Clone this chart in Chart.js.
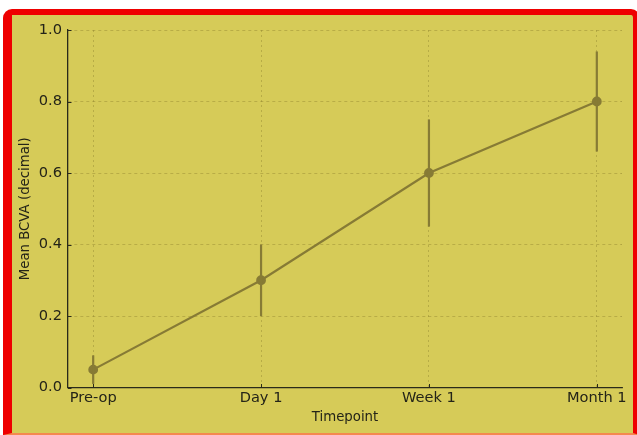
<!DOCTYPE html>
<html>
<head>
<meta charset="utf-8">
<script src="https://cdn.jsdelivr.net/npm/chart.js@4"></script>
<style>
  html, body { margin: 0; padding: 0; background: #ffffff; overflow: hidden; }
  #frame {
    position: absolute;
    left: 3px;
    top: 9px;
    width: 621px;
    height: 418px;
    border-style: solid;
    border-color: #ee0000 #ee0000 #f4884e #ee0000;
    border-width: 6px 7px 2px 9px;
    border-radius: 9px 9px 0 0;
    background: #d6cb58;
  }
  canvas { display: block; }
</style>
</head>
<body>
<div id="frame"><canvas id="chart" width="621" height="417"></canvas></div>
<script>
const timepoints = ["Pre-op", "Day 1", "Week 1", "Month 1"];
const meanBcva = [0.05, 0.30, 0.60, 0.80];
const errLow = [0.01, 0.20, 0.45, 0.66];
const errHigh = [0.09, 0.40, 0.75, 0.94];
const yTicks = [0.0, 0.2, 0.4, 0.6, 0.8, 1.0];

const lineColor = "#877b35";
const textColor = "#242418";
const axisColor = "#2a2a1a";
const gridColor = "rgba(130, 118, 40, 0.45)";

// vertical error bars + inward tick marks, placed with the chart's own scales
const errorBars = {
  id: "errorBars",
  afterDatasetsDraw(chart) {
    const { ctx, scales, chartArea } = chart;
    ctx.save();
    ctx.strokeStyle = lineColor;
    ctx.lineWidth = 2.2;
    for (let i = 0; i < timepoints.length; i++) {
      const x = scales.x.getPixelForValue(i);
      ctx.beginPath();
      ctx.moveTo(x, scales.y.getPixelForValue(errLow[i]));
      ctx.lineTo(x, scales.y.getPixelForValue(errHigh[i]));
      ctx.stroke();
    }
    ctx.restore();
  },
  afterDraw(chart) {
    const { ctx, scales, chartArea } = chart;
    ctx.save();
    ctx.strokeStyle = axisColor;
    ctx.lineWidth = 1;
    for (let i = 0; i < timepoints.length; i++) {
      const x = Math.round(scales.x.getPixelForValue(i)) + 0.5;
      ctx.beginPath();
      ctx.moveTo(x, chartArea.bottom);
      ctx.lineTo(x, chartArea.bottom - 3.5);
      ctx.stroke();
    }
    for (const v of yTicks) {
      const y = Math.round(scales.y.getPixelForValue(v)) + 0.5;
      ctx.beginPath();
      ctx.moveTo(chartArea.left, y);
      ctx.lineTo(chartArea.left + 3.5, y);
      ctx.stroke();
    }
    ctx.restore();
  },
};

const ctx = document.getElementById("chart").getContext("2d");
new Chart(ctx, {
  type: "line",
  data: {
    datasets: [
      {
        data: meanBcva.map((v, i) => ({ x: i, y: v })),
        borderColor: lineColor,
        backgroundColor: lineColor,
        borderWidth: 2.2,
        pointRadius: 3.8,
        pointHoverRadius: 3.8,
        tension: 0,
      },
    ],
  },
  options: {
    responsive: false,
    devicePixelRatio: 1,
    animation: false,
    layout: { padding: { left: 0, right: 11, top: 15, bottom: 0 } },
    plugins: {
      legend: { display: false },
      tooltip: { enabled: false },
    },
    scales: {
      x: {
        type: "linear",
        min: -0.15,
        max: 3.15,
        afterBuildTicks(scale) {
          scale.ticks = timepoints.map((t, i) => ({ value: i }));
        },
        ticks: {
          callback: (v) => timepoints[v],
          color: textColor,
          font: { family: "DejaVu Sans", size: 14.6 },
          padding: 2,
          maxRotation: 0,
        },
        grid: {
          color: gridColor,
          lineWidth: 0.8,
          drawTicks: false,
        },
        border: { display: true, color: axisColor, width: 1.3, dash: [2, 3] },
        title: {
          display: true,
          text: "Timepoint",
          color: textColor,
          font: { family: "DejaVu Sans", size: 13.3 },
          padding: { top: 1, bottom: 6 },
        },
      },
      y: {
        min: 0,
        max: 1,
        afterBuildTicks(scale) {
          scale.ticks = yTicks.map((v) => ({ value: v }));
        },
        afterFit(scale) {
          scale.width = 56;
        },
        ticks: {
          callback: (v) => v.toFixed(1),
          color: textColor,
          font: { family: "DejaVu Sans", size: 14.6 },
          padding: 6,
        },
        grid: {
          color: gridColor,
          lineWidth: 0.8,
          drawTicks: false,
        },
        border: { display: true, color: axisColor, width: 1.3, dash: [3, 3] },
        title: {
          display: true,
          text: "Mean BCVA (decimal)",
          color: textColor,
          font: { family: "DejaVu Sans", size: 13.3 },
          padding: { top: 6, bottom: 0 },
        },
      },
    },
  },
  plugins: [errorBars],
});
</script>
</body>
</html>
